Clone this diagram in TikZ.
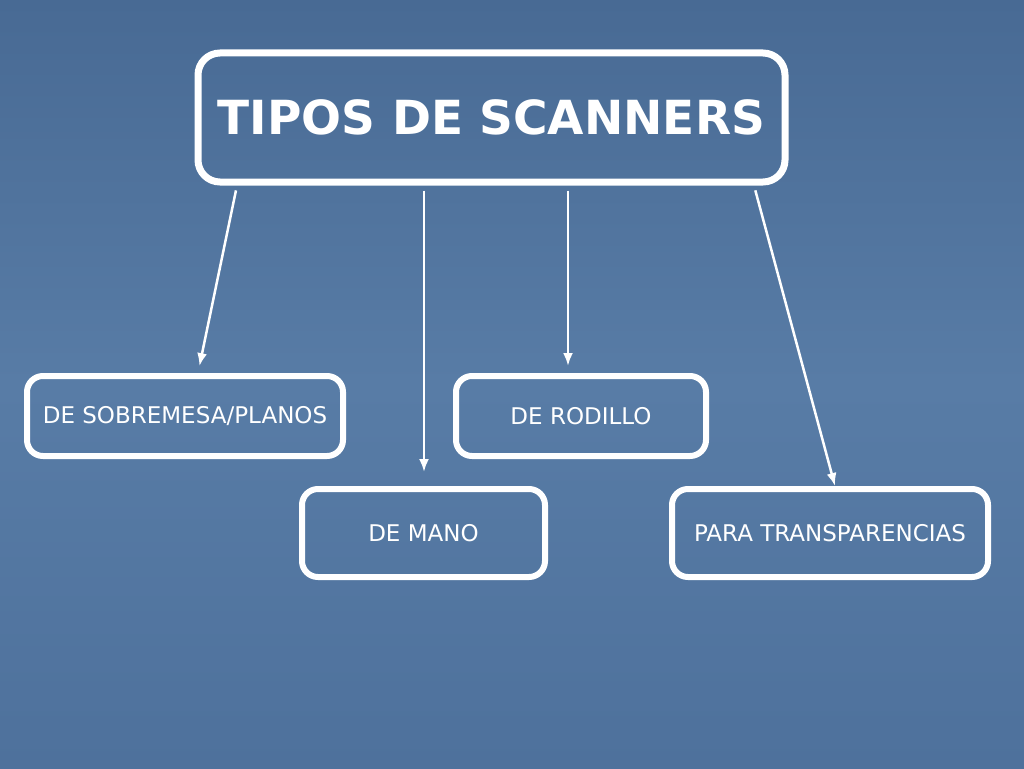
\documentclass[tikz,border=0pt]{standalone}
\usepackage{fontspec}
\setmainfont{DejaVu Sans}
\usetikzlibrary{arrows.meta,shapes,positioning}

\definecolor{fondoarriba}{RGB}{72,106,148}
\definecolor{fondomedio}{RGB}{88,124,166}
\definecolor{fondoabajo}{RGB}{78,113,156}

\begin{document}
\begin{tikzpicture}[x=1pt,y=-1pt,
    tipo/.style={rectangle,rounded corners=16pt,draw=white,line width=6pt,text=white,inner sep=0pt,font=\fontsize{23}{26}\selectfont},
    flecha/.style={-{Latex[length=13pt,width=10pt]},draw=white,line width=2.5pt}] {
    \useasboundingbox (0,0) rectangle (1024,768);
    \fill[top color=fondoarriba,bottom color=fondoabajo,middle color=fondomedio] (0,0) rectangle (1024,768);
    \node[tipo,line width=7pt,rounded corners=22pt,minimum width=587pt,minimum height=129pt,font=\fontsize{47}{50}\selectfont\bfseries] (tipos) at (491.5,117.5) {TIPOS DE SCANNERS};
    \node[tipo,minimum width=316pt,minimum height=80pt] (sobremesa) at (185,416) {DE SOBREMESA/PLANOS};
    \node[tipo,minimum width=250pt,minimum height=80pt] (rodillo) at (581,416) {DE RODILLO};
    \node[tipo,minimum width=243pt,minimum height=88pt] (mano) at (423.5,533) {DE MANO};
    \node[tipo,minimum width=316pt,minimum height=88pt] (transparencias) at (830,533) {PARA TRANSPARENCIAS};
    \draw[flecha,shorten <=5pt,shorten >=7pt] ([xshift=-254.5pt]tipos.south) -- ([xshift=13pt]sobremesa.north);
    \draw[flecha,shorten <=5pt,shorten >=14pt] ([xshift=-67.5pt]tipos.south) -- ([xshift=0.5pt]mano.north);
    \draw[flecha,shorten <=5pt,shorten >=7pt] ([xshift=76.5pt]tipos.south) -- ([xshift=-13pt]rodillo.north);
    \draw[flecha,shorten <=5pt] ([xshift=262.5pt]tipos.south) -- ([xshift=5pt]transparencias.north);
 }
\end{tikzpicture}
\end{document}
